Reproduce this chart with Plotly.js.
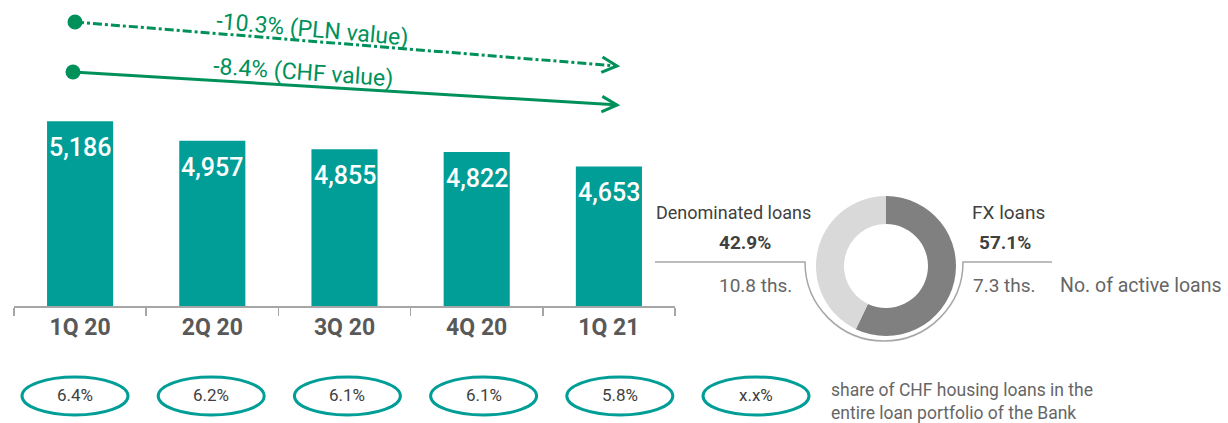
<!DOCTYPE html>
<html>
<head>
<meta charset="utf-8">
<script src="https://cdn.plot.ly/plotly-3.0.1.min.js"></script>
<style>html,body{margin:0;padding:0;background:#fff;}#chart{width:1228px;height:423px;}</style>
</head>
<body>
<div id="chart"></div>
<script>
// ---- data ----
const categories = ['1Q 20', '2Q 20', '3Q 20', '4Q 20', '1Q 21'];
const loans = [5186, 4957, 4855, 4822, 4653];
const shareLabels = ['6.4%', '6.2%', '6.1%', '6.1%', '5.8%', 'x.x%'];
const pieLabels = ['FX loans', 'Denominated loans'];
const pieShares = [57.1, 42.9];
const activeLoans = ['7.3 ths.', '10.8 ths.'];
const changeLabels = ['-10.3% (PLN value)', '-8.4% (CHF value)'];

// ---- helpers (pixel -> paper) ----
const W = 1228, H = 423;
const X = p => p / W;
const Y = p => 1 - p / H;
const FONT = 'Roboto, "Open Sans", sans-serif';
const TEAL = '#009e96';
const GREEN = '#00915a';
const GREY_LINE = '#a6a6a6';

const shapes = [];
const annotations = [];

function pt(x, y) { return X(x) + ',' + Y(y); }

function arrow(x0, y0, x1, y1, dash) {
  shapes.push({type: 'line', xref: 'paper', yref: 'paper', x0: X(x0), y0: Y(y0), x1: X(x1 - 2), y1: Y(y1 - 0.15),
    line: {color: GREEN, width: 3, dash: dash}});
  const a = Math.atan2(y1 - y0, x1 - x0), L = 17, s = 27 * Math.PI / 180;
  const p1 = [x1 - L * Math.cos(a - s), y1 - L * Math.sin(a - s)];
  const p2 = [x1 - L * Math.cos(a + s), y1 - L * Math.sin(a + s)];
  shapes.push({type: 'path', xref: 'paper', yref: 'paper',
    path: 'M' + pt(p1[0], p1[1]) + ' L' + pt(x1, y1) + ' L' + pt(p2[0], p2[1]),
    line: {color: GREEN, width: 3}});
  const r = 7.5;
  shapes.push({type: 'circle', xref: 'paper', yref: 'paper', x0: X(x0 - r), x1: X(x0 + r), y0: Y(y0 + r), y1: Y(y0 - r),
    fillcolor: GREEN, line: {color: GREEN, width: 0}});
}
arrow(75, 22, 617, 66, 'dashdot');
arrow(73, 72, 617, 105, 'solid');

annotations.push({xref: 'paper', yref: 'paper', x: X(312), y: Y(30), text: changeLabels[0], showarrow: false,
  textangle: 5, font: {family: FONT, size: 23, color: GREEN}, xanchor: 'center', yanchor: 'middle'});
annotations.push({xref: 'paper', yref: 'paper', x: X(303), y: Y(72), text: changeLabels[1], showarrow: false,
  textangle: 4, font: {family: FONT, size: 23, color: GREEN}, xanchor: 'center', yanchor: 'middle'});

// bar value labels
categories.forEach((c, i) => {
  annotations.push({xref: 'x', yref: 'y', x: c, y: loans[i], text: loans[i].toLocaleString('en-US'),
    showarrow: false, yanchor: 'top', yshift: -10, font: {family: FONT, size: 25, color: '#ffffff', weight: 500}});
});

// pie side texts
const txt = (x, y, t, size, color, opts) => annotations.push(Object.assign({xref: 'paper', yref: 'paper', x: X(x), y: Y(y),
  text: t, showarrow: false, xanchor: 'center', yanchor: 'middle', font: {family: FONT, size: size, color: color}}, opts || {}));
txt(733, 213, pieLabels[1], 18, '#404040');
txt(745, 242, '<b>' + pieShares[1].toFixed(1) + '%</b>', 19, '#404040');
txt(755, 285, activeLoans[1], 19, '#666666');
txt(1008, 213, pieLabels[0], 19, '#404040');
txt(1005, 242, '<b>' + pieShares[0].toFixed(1) + '%</b>', 19, '#404040');
txt(1004, 285, activeLoans[0], 19, '#666666');
txt(1058, 285, 'No. of active loans', 19.5, '#666666', {xanchor: 'left'});

// connector line with arc under the donut
(function () {
  const cx = 884, cy = 262, r = 79, k = 0.5523 * r;
  const path = 'M' + pt(655, cy) + ' L' + pt(cx - r, cy) +
    ' C' + pt(cx - r, cy + k) + ' ' + pt(cx - k, cy + r) + ' ' + pt(cx, cy + r) +
    ' C' + pt(cx + k, cy + r) + ' ' + pt(cx + r, cy + k) + ' ' + pt(cx + r, cy) +
    ' L' + pt(1052, cy);
  shapes.push({type: 'path', xref: 'paper', yref: 'paper', path: path, line: {color: GREY_LINE, width: 1.5}});
})();

// ovals with share of CHF housing loans
shareLabels.forEach((t, i) => {
  const cx = 75 + i * 136.2, cy = 396;
  shapes.push({type: 'circle', xref: 'paper', yref: 'paper', x0: X(cx - 53), x1: X(cx + 53), y0: Y(cy + 19), y1: Y(cy - 19),
    line: {color: TEAL, width: 3}});
  txt(cx, cy - 1, t, 17, '#404040');
});
txt(829, 401, 'share of CHF housing loans in the<br>entire loan portfolio of the Bank', 17.5, '#666666',
  {xanchor: 'left', align: 'left'});

const data = [
  {type: 'bar', x: categories, y: loans, width: 0.5, marker: {color: TEAL}, hoverinfo: 'none', cliponaxis: false},
  {type: 'pie', labels: pieLabels, values: pieShares, hole: 0.6, sort: false, direction: 'clockwise', rotation: 0,
    marker: {colors: ['#808080', '#d9d9d9'], line: {width: 0}}, textinfo: 'none', hoverinfo: 'none', showlegend: false,
    domain: {x: [X(886 - 70), X(886 + 70)], y: [Y(266 + 70), Y(266 - 70)]}}
];

const layout = {
  width: W, height: H,
  margin: {l: 0, r: 0, t: 0, b: 0},
  paper_bgcolor: '#ffffff', plot_bgcolor: 'rgba(0,0,0,0)',
  showlegend: false,
  xaxis: {domain: [X(14), X(675)], range: [-0.5, 4.5], type: 'category', showline: true, linecolor: GREY_LINE, linewidth: 1.5,
    ticks: 'outside', tickson: 'boundaries', ticklen: 8, tickwidth: 1.5, tickcolor: GREY_LINE, showgrid: false, zeroline: false,
    tickfont: {family: FONT, size: 23, color: '#595959', weight: 'bold'}, fixedrange: true},
  yaxis: {domain: [Y(306), Y(100)], range: [3000, 3000 + 206 * 11.84], visible: false, showgrid: false, zeroline: false, fixedrange: true},
  shapes: shapes,
  annotations: annotations
};

Plotly.newPlot('chart', data, layout, {displayModeBar: false, staticPlot: true});
</script>
</body>
</html>
